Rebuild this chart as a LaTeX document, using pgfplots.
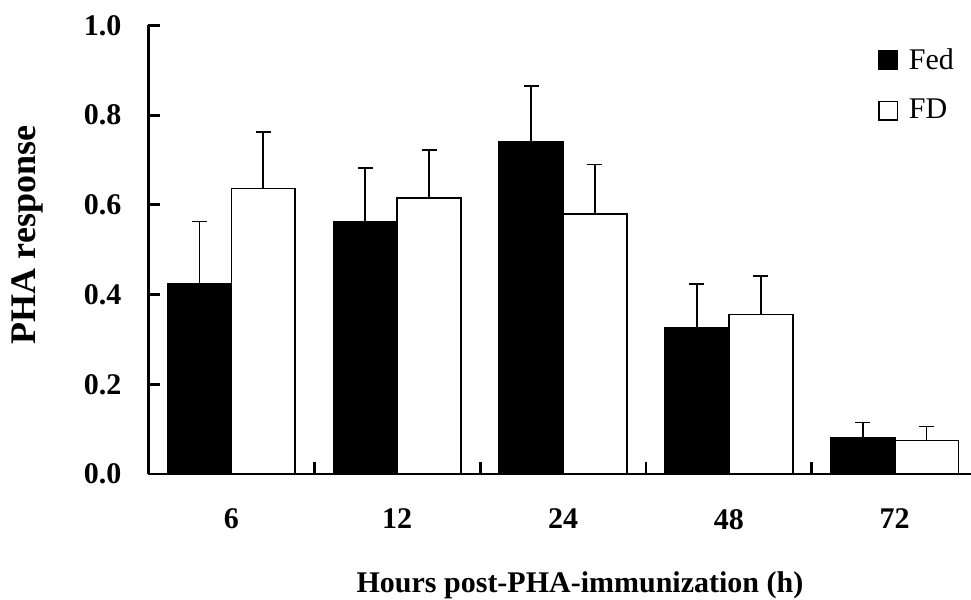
\documentclass[border=0pt]{standalone}
\usepackage{fontspec}
\setmainfont{Liberation Serif}
\usepackage{pgfplots}
\pgfplotsset{compat=1.18}
\pgfplotstableread{
x  fed   fede  fd    fde
0  0.424 0.139 0.637 0.125
1  0.563 0.119 0.615 0.107
2  0.741 0.124 0.580 0.110
3  0.326 0.098 0.356 0.086
4  0.080 0.035 0.075 0.031
}\datatable
\begin{document}
\begin{tikzpicture}
\path[use as bounding box] (0,0) rectangle (485.5pt,300pt);
\begin{axis}[
  at={(74.25pt,63pt)}, anchor=south west,
  scale only axis, width=411.25pt, height=224.25pt,
  xmin=-0.5, xmax=4.46, ymin=0, ymax=1,
  axis x line*=bottom, axis y line*=left,
  axis line style={line width=1.4pt, black},
  ybar, bar width=0.385,
  ytick={0,0.2,0.4,0.6,0.8,1.0},
  yticklabels={0.0,0.2,0.4,0.6,0.8,1.0},
  xtick={0.5,1.5,2.5,3.5}, xticklabels={},
  extra x ticks={0,1,2,3,4},
  extra x tick labels={6,12,24,48,72},
  extra x tick style={major tick length=0pt, tick style={draw=none}},
  tick align=inside, major tick length=6pt,
  tick style={line width=1.4pt, black},
  ticklabel style={font=\fontsize{15}{18}\selectfont\bfseries},
  yticklabel style={xshift=-10pt},
  xticklabel style={yshift=-14pt},
  xlabel={Hours post-PHA-immunization (h)},
  ylabel={PHA response},
  xlabel style={at={(axis description cs:0.5246,-0.2653)}, anchor=base,
    font=\fontsize{15}{18}\selectfont\bfseries},
  ylabel style={at={(axis description cs:-0.1477,0.5329)}, anchor=center, rotate=0,
    font=\fontsize{18}{21}\selectfont\bfseries},
  legend style={at={(axis description cs:0.8857,0.9588)}, anchor=north west,
    draw=none, fill=none, font=\fontsize{15}{18}\selectfont,
    row sep=9.5pt, inner sep=0pt, column sep=0pt},
  legend cell align=left,
  sq/.style={legend image code/.code={\draw[line width=0.8pt,##1] (0.4pt,-4.6pt) rectangle (9.6pt,4.6pt); \path (0pt,0pt) (13pt,0pt);}},
  myerr/.style={error bars/.cd, y dir=plus, y explicit,
    error bar style={line width=0.85pt, black},
    error mark options={rotate=90, mark size=3.75pt, line width=0.85pt, black}},
]
\addplot[draw=black, fill=black, line width=0.8pt, bar shift=-0.1925, sq, myerr]
  table[x=x, y=fed, y error=fede] {\datatable};
\addlegendentry{Fed}
\addplot[draw=black, fill=white, line width=0.8pt, bar shift=0.1925, sq, myerr]
  table[x=x, y=fd, y error=fde] {\datatable};
\addlegendentry{FD}
\end{axis}
\end{tikzpicture}
\end{document}
